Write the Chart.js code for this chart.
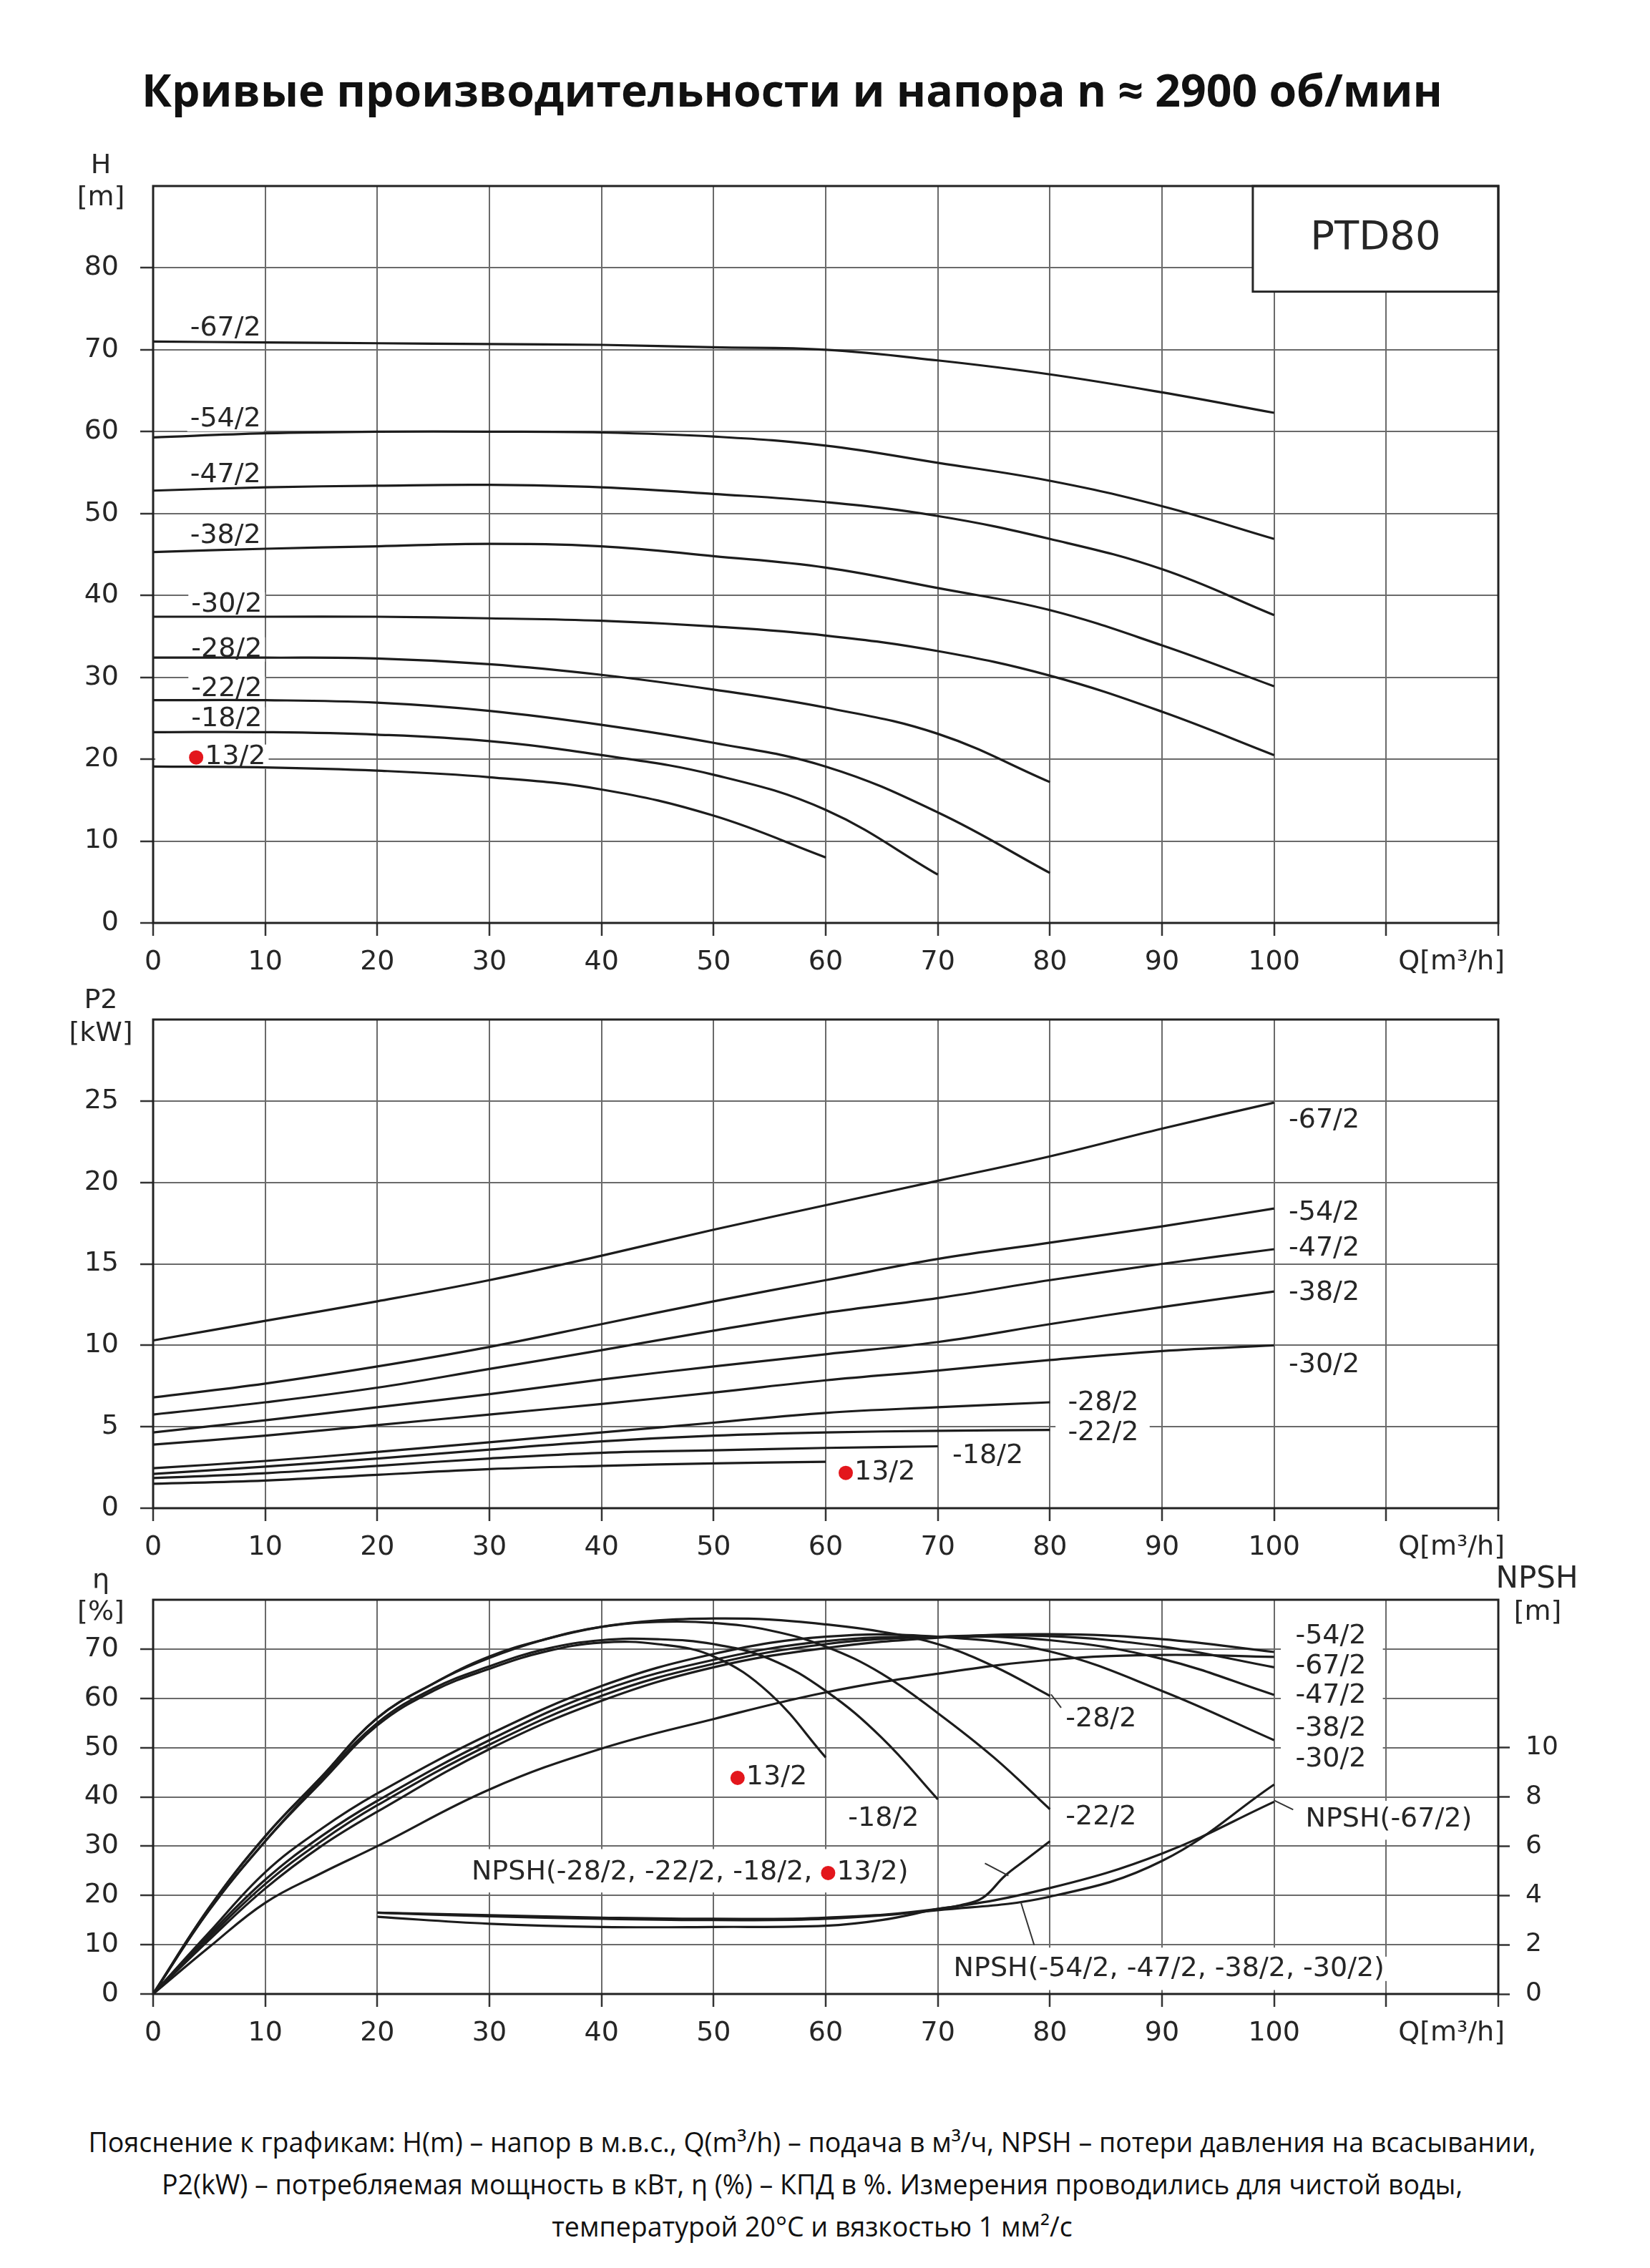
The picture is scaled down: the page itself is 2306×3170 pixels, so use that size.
<!DOCTYPE html>
<html lang="ru">
<head>
<meta charset="utf-8">
<title>PTD80 – кривые производительности</title>
<script src="https://cdn.jsdelivr.net/npm/chart.js@4.4.1/dist/chart.umd.min.js"></script>
<style>
  html, body { margin: 0; padding: 0; background: #fff; }
  body { width: 2306px; height: 3170px; position: relative; overflow: hidden; }
  canvas { position: absolute; left: 0; }
  .title {
    position: absolute; left: 0; top: 87px; width: 2214px;
    text-align: center; font: 700 62.5px/76px 'Open Sans', 'Noto Sans', sans-serif; color: #111;
  }
  .note {
    position: absolute; left: 0; top: 2964px; width: 2270px;
    text-align: center; font: 400 37.5px/59px 'Open Sans', 'Noto Sans', sans-serif; color: #111;
  }
</style>
</head>
<body>
<div class="title">Кривые производительности и напора n ≈ 2900 об/мин</div>
<canvas id="chart-h" width="2306" height="1400" style="top:0"></canvas>
<canvas id="chart-p" width="2306" height="880" style="top:1340px"></canvas>
<canvas id="chart-eta" width="2306" height="780" style="top:2160px"></canvas>
<div class="note">Пояснение к графикам: H(m) – напор в м.в.с., Q(m³/h) – подача в м³/ч, NPSH – потери давления на всасывании,<br>P2(kW) – потребляемая мощность в кВт, η (%) – КПД в %. Измерения проводились для чистой воды,<br>температурой 20°C и вязкостью 1 мм²/с</div>

<script>
/* ── DATA ─────────────────────────────────────────────────── */
// flow rate, m3/h
const Q100 = [0, 10, 20, 30, 40, 50, 60, 70, 80, 90, 100];
const Q80 = [0, 10, 20, 30, 40, 50, 60, 70, 80];
const Q70 = [0, 10, 20, 30, 40, 50, 60, 70];
const Q60 = [0, 10, 20, 30, 40, 50, 60];

// head H, m
const h67 = [71.0, 70.9, 70.8, 70.7, 70.6, 70.3, 70.0, 68.7, 67.0, 64.8, 62.3];
const h54 = [59.3, 59.8, 60.0, 60.0, 59.9, 59.4, 58.3, 56.2, 54.0, 50.9, 46.9];
const h47 = [52.8, 53.2, 53.4, 53.5, 53.2, 52.4, 51.4, 49.7, 46.9, 43.2, 37.6];
const h38 = [45.3, 45.7, 46.0, 46.3, 46.0, 44.8, 43.4, 40.9, 38.2, 33.9, 28.9];
const h30 = [37.4, 37.4, 37.4, 37.2, 36.9, 36.2, 35.1, 33.2, 30.2, 25.8, 20.5];
const h28 = [32.4, 32.4, 32.3, 31.6, 30.3, 28.5, 26.3, 23.1, 17.2];
const h22 = [27.2, 27.2, 26.9, 25.9, 24.2, 22.0, 19.1, 13.5, 6.1];
const h18 = [23.3, 23.3, 23.0, 22.2, 20.5, 18.1, 13.8, 5.9];
const h13 = [19.1, 19.0, 18.6, 17.8, 16.3, 13.1, 8.0];

// power P2, kW
const p67 = [10.3, 11.5, 12.7, 14.0, 15.5, 17.1, 18.6, 20.1, 21.6, 23.3, 24.9];
const p54 = [6.8, 7.65, 8.7, 9.9, 11.3, 12.7, 14.0, 15.3, 16.3, 17.3, 18.4];
const p47 = [5.75, 6.5, 7.4, 8.55, 9.7, 10.9, 12.0, 12.9, 14.0, 15.0, 15.9];
const p38 = [4.65, 5.4, 6.2, 7.0, 7.9, 8.7, 9.45, 10.2, 11.3, 12.35, 13.3];
const p30 = [3.9, 4.45, 5.1, 5.75, 6.4, 7.1, 7.85, 8.45, 9.1, 9.65, 10.0];
const p28 = [2.45, 2.9, 3.45, 4.05, 4.65, 5.25, 5.85, 6.2, 6.5];
const p22 = [2.1, 2.55, 3.05, 3.6, 4.1, 4.45, 4.65, 4.75, 4.8];
const p18 = [1.85, 2.15, 2.6, 3.05, 3.4, 3.55, 3.7, 3.8];
const p13 = [1.5, 1.7, 2.05, 2.4, 2.6, 2.75, 2.85];

// efficiency, %
const Q_EFF_A = [0, 5, 10, 15, 20, 25, 30, 35, 40, 45, 50, 55, 60, 65, 70, 75, 80];
const e28 = [0, 17.5, 32, 44, 56, 63, 68.5, 72, 74.5, 75.8, 76.2, 76, 75, 73.5, 71, 66.5, 60.5];
const e22 = [0, 17.5, 32, 44, 56, 63, 68.2, 72, 74.5, 75.5, 75.3, 73.8, 70.5, 65, 57, 48, 37.5];
const e18 = [0, 17, 31, 43.5, 55, 62, 66.5, 70, 71.8, 72, 71, 68, 61.5, 52, 39.5];
const e13 = [0, 17, 31, 43, 54.5, 61.5, 66, 69.5, 71.3, 71, 68.5, 61, 48];
const Q_EFF_B = [0, 5, 10, 15, 20, 30, 40, 50, 60, 70, 80, 90, 100];
const e30 = [0, 12.5, 24.7, 33.5, 40.7, 52.7, 62.5, 69, 72.5, 72.5, 69.5, 61.5, 51.5];
const e38 = [0, 12, 23.2, 32, 39.2, 51.5, 61.5, 67.8, 71.6, 72.5, 71.8, 68, 60.7];
const e47 = [0, 11.5, 22.3, 31, 38.3, 50.6, 60.5, 67, 71, 72.5, 72.6, 70.5, 66.3];
const e54 = [0, 11, 21.4, 30, 37, 49.7, 59.5, 66.3, 70.2, 72.3, 73, 72, 69.4];
const e67 = [0, 9.5, 18.5, 24.5, 30, 41.5, 49.8, 55.8, 61.2, 65, 67.8, 68.8, 68.4];

// NPSH, m
const Q_NPSH_A = [20, 30, 40, 50, 60, 65, 70, 72, 74, 76, 78, 80];
const npshSmall = [3.13, 2.85, 2.72, 2.72, 2.77, 3.0, 3.45, 3.6, 3.9, 4.8, 5.5, 6.2];
const Q_NPSH_B = [20, 30, 40, 50, 60, 70, 80, 90, 100];
const npshMid = [3.3, 3.15, 3.05, 3.0, 3.05, 3.4, 3.95, 5.4, 8.5];
const npsh67 = [3.3, 3.2, 3.1, 3.05, 3.1, 3.45, 4.3, 5.7, 7.8];

// axis ticks
const Q_TICKS = [0, 10, 20, 30, 40, 50, 60, 70, 80, 90, 100, 110, 120];
const Q_TICK_LABELS = ['0', '10', '20', '30', '40', '50', '60', '70', '80', '90', '100', '', ''];
const H_TICKS = [0, 10, 20, 30, 40, 50, 60, 70, 80];
const P_TICKS = [0, 5, 10, 15, 20, 25];
const ETA_TICKS = [0, 10, 20, 30, 40, 50, 60, 70];
const NPSH_TICKS = [0, 2, 4, 6, 8, 10];

/* ── STYLE ────────────────────────────────────────────────── */
const FONT = "'DejaVu Sans', 'Liberation Sans', sans-serif";
const INK = '#262626';
const GRID = '#6a6a6a';
const RED = '#e3161c';
const LABEL_FONT = '38px ' + FONT;

Chart.defaults.font.family = FONT;
Chart.defaults.font.size = 38;
Chart.defaults.color = INK;

const line = (qs, vs, axis) => ({
    data: qs.map((q, i) => ({ x: q, y: vs[i] })),
    yAxisID: axis || 'y',
    borderColor: '#1c1c1c',
    borderWidth: 3.2,
    pointRadius: 0,
    fill: false,
    tension: 0.4,
});

const gridStyle = { color: GRID, lineWidth: 2, tickLength: 18, tickColor: '#333', tickWidth: 2.5 };

function xScale(height) {
    return {
        type: 'linear', min: 0, max: 120,
        afterBuildTicks: s => { s.ticks = Q_TICKS.map(v => ({ value: v })); },
        ticks: {
            autoSkip: false, maxRotation: 0, padding: 14,
            callback: v => Q_TICK_LABELS[Q_TICKS.indexOf(v)] ?? '',
        },
        grid: gridStyle,
        border: { display: false },
        afterFit: s => { s.height = height; },
    };
}

function yScale(max, tickList, pos) {
    const right = pos === 'right';
    return {
        type: 'linear', min: 0, max: max, position: pos || 'left',
        afterBuildTicks: s => { s.ticks = tickList.map(v => ({ value: v })); },
        ticks: { autoSkip: false, padding: right ? 22 : 30, font: { size: right ? 36 : 38 } },
        grid: right ? { drawOnChartArea: false, tickLength: 16, tickColor: '#333', tickWidth: 2.5 } : gridStyle,
        border: { display: false },
        afterFit: s => { s.width = right ? 212 : 214; },
    };
}

/* ── ANNOTATION PLUGIN (labels, white boxes, leaders, frame) ─ */
function labelWidth(ctx, t) {
    const parts = t.split('●');
    return parts.reduce((w, p) => w + ctx.measureText(p).width, 0) + (parts.length - 1) * 22;
}

function drawLabel(ctx, t, x, y) {
    const parts = t.split('●');
    let cx = x;
    parts.forEach((p, i) => {
        ctx.fillStyle = INK;
        ctx.fillText(p, cx, y);
        cx += ctx.measureText(p).width;
        if (i < parts.length - 1) {
            ctx.fillStyle = RED;
            ctx.beginPath();
            ctx.arc(cx + 10, y + 1, 10, 0, Math.PI * 2);
            ctx.fill();
            cx += 22;
        }
    });
}

function notes(cfg) {
    const px = (c, axis, v) => c.scales[axis].getPixelForValue(v);
    return {
        id: 'notes',
        beforeDatasetsDraw(c) {
            const ctx = c.ctx;
            ctx.save();
            ctx.fillStyle = '#fff';
            (cfg.boxes || []).forEach(b => {
                const ax = b.axis || 'y';
                const x0 = px(c, 'x', b.x0), x1 = px(c, 'x', b.x1);
                const y0 = px(c, ax, b.y0), y1 = px(c, ax, b.y1);
                ctx.fillRect(x0, y1, x1 - x0, y0 - y1);
            });
            ctx.font = LABEL_FONT;
            (cfg.labels || []).forEach(l => {
                const x = px(c, 'x', l.x), y = px(c, l.axis || 'y', l.y);
                ctx.fillRect(x - 4, y - 17, labelWidth(ctx, l.t) + 8, 34);
            });
            ctx.restore();
        },
        afterDatasetsDraw(c) {
            const ctx = c.ctx;
            const a = c.chartArea;
            ctx.save();
            // framed boxes with text
            (cfg.boxes || []).filter(b => b.stroke).forEach(b => {
                const ax = b.axis || 'y';
                const x0 = px(c, 'x', b.x0), x1 = px(c, 'x', b.x1);
                const y0 = px(c, ax, b.y0), y1 = px(c, ax, b.y1);
                ctx.strokeStyle = INK;
                ctx.lineWidth = 3;
                ctx.strokeRect(x0, y1, x1 - x0, y0 - y1);
                if (b.text) {
                    ctx.font = b.font;
                    ctx.fillStyle = INK;
                    ctx.textAlign = 'center';
                    ctx.textBaseline = 'middle';
                    ctx.fillText(b.text, (x0 + x1) / 2, (y0 + y1) / 2);
                }
            });
            // leaders
            ctx.strokeStyle = '#333';
            ctx.lineWidth = 2;
            (cfg.leaders || []).forEach(l => {
                const ax = l.axis || 'y';
                ctx.beginPath();
                ctx.moveTo(px(c, 'x', l.x0), px(c, ax, l.y0));
                ctx.lineTo(px(c, 'x', l.x1), px(c, ax, l.y1));
                ctx.stroke();
            });
            // labels
            ctx.font = LABEL_FONT;
            ctx.textAlign = 'left';
            ctx.textBaseline = 'middle';
            (cfg.labels || []).forEach(l => {
                drawLabel(ctx, l.t, px(c, 'x', l.x), px(c, l.axis || 'y', l.y));
            });
            // frame
            ctx.strokeStyle = '#222';
            ctx.lineWidth = 3;
            ctx.strokeRect(a.left, a.top, a.right - a.left, a.bottom - a.top);
            ctx.restore();
        },
        afterDraw(c) {
            const ctx = c.ctx;
            const a = c.chartArea;
            ctx.save();
            ctx.fillStyle = INK;
            ctx.textBaseline = 'middle';
            (cfg.titles || []).forEach(t => {
                ctx.font = (t.size || 38) + 'px ' + FONT;
                ctx.textAlign = t.align || 'center';
                const x = (t.side === 'right' ? a.right : a.left) + t.dx;
                const y = (t.from === 'bottom' ? a.bottom : a.top) + t.dy;
                ctx.fillText(t.t, x, y);
            });
            ctx.restore();
        },
    };
}

const qTitle = { t: 'Q[m³/h]', side: 'right', dx: 9, from: 'bottom', dy: 55, align: 'right' };

function baseOptions(padTop, padRight) {
    return {
        responsive: false,
        animation: false,
        events: [],
        layout: { padding: { top: padTop, right: padRight, left: 0, bottom: 0 } },
        plugins: { legend: { display: false }, tooltip: { enabled: false } },
    };
}

/* ── H(Q) ─────────────────────────────────────────────────── */
new Chart(document.getElementById('chart-h'), {
    type: 'line',
    data: {
        datasets: [
            line(Q100, h67), line(Q100, h54), line(Q100, h47), line(Q100, h38), line(Q100, h30),
            line(Q80, h28), line(Q80, h22), line(Q70, h18), line(Q60, h13),
        ],
    },
    options: Object.assign(baseOptions(260, 212), {
        scales: { x: xScale(110), y: yScale(90, H_TICKS) },
    }),
    plugins: [notes({
        boxes: [
            { x0: 98.1, x1: 120, y0: 77.1, y1: 90, stroke: true, text: 'PTD80', font: '56px ' + FONT },
            { x0: 0.2, x1: 9.8, y0: 19.5, y1: 21.1 },
        ],
        labels: [
            { t: '-67/2', x: 3.3, y: 72.6 }, { t: '-54/2', x: 3.3, y: 61.5 },
            { t: '-47/2', x: 3.3, y: 54.7 }, { t: '-38/2', x: 3.3, y: 47.3 },
            { t: '-30/2', x: 3.4, y: 38.9 }, { t: '-28/2', x: 3.4, y: 33.4 },
            { t: '-22/2', x: 3.4, y: 28.6 }, { t: '-18/2', x: 3.4, y: 24.85 },
            { t: '●13/2', x: 3.2, y: 20.3 },
        ],
        titles: [
            { t: 'H', dx: -73, dy: -28 }, { t: '[m]', dx: -73, dy: 17 }, qTitle,
        ],
    })],
});

/* ── P2(Q) ────────────────────────────────────────────────── */
new Chart(document.getElementById('chart-p'), {
    type: 'line',
    data: {
        datasets: [
            line(Q100, p67), line(Q100, p54), line(Q100, p47), line(Q100, p38), line(Q100, p30),
            line(Q80, p28), line(Q80, p22), line(Q70, p18), line(Q60, p13),
        ],
    },
    options: Object.assign(baseOptions(85, 212), {
        scales: { x: xScale(112), y: yScale(30, P_TICKS) },
    }),
    plugins: [notes({
        boxes: [{ x0: 80.5, x1: 88.9, y0: 4.1, y1: 5.4 }],
        labels: [
            { t: '-67/2', x: 101.3, y: 23.8 }, { t: '-54/2', x: 101.3, y: 18.15 },
            { t: '-47/2', x: 101.3, y: 15.95 }, { t: '-38/2', x: 101.3, y: 13.2 },
            { t: '-30/2', x: 101.3, y: 8.78 }, { t: '-28/2', x: 81.6, y: 6.43 },
            { t: '-22/2', x: 81.6, y: 4.59 }, { t: '-18/2', x: 71.3, y: 3.18 },
            { t: '●13/2', x: 61.15, y: 2.21 },
        ],
        titles: [
            { t: 'P2', dx: -73, dy: -26 }, { t: '[kW]', dx: -73, dy: 20 }, qTitle,
        ],
    })],
});

/* ── η(Q) and NPSH(Q) ─────────────────────────────────────── */
new Chart(document.getElementById('chart-eta'), {
    type: 'line',
    data: {
        datasets: [
            line(Q_EFF_A, e28), line(Q_EFF_A, e22), line(Q_EFF_A.slice(0, e18.length), e18),
            line(Q_EFF_A.slice(0, e13.length), e13),
            line(Q_EFF_B, e30), line(Q_EFF_B, e38), line(Q_EFF_B, e47), line(Q_EFF_B, e54), line(Q_EFF_B, e67),
            line(Q_NPSH_A, npshSmall, 'yR'), line(Q_NPSH_B, npshMid, 'yR'), line(Q_NPSH_B, npsh67, 'yR'),
        ],
    },
    options: Object.assign(baseOptions(76, 0), {
        scales: {
            x: xScale(153),
            y: yScale(80, ETA_TICKS),
            yR: yScale(16, NPSH_TICKS, 'right'),
        },
    }),
    plugins: [notes({
        boxes: [
            { x0: 100.6, x1: 109.7, y0: 44, y1: 79.7 },
            { x0: 102.5, x1: 117.8, y0: 31.3, y1: 39.2 },
            { x0: 71, x1: 108.8, y0: 0.8, y1: 9.4 },
            { x0: 22, x1: 68.5, y0: 20.6, y1: 29.4 },
        ],
        leaders: [
            { x0: 74.2, y0: 26.5, x1: 76.3, y1: 24.0 },
            { x0: 77.4, y0: 18.65, x1: 78.6, y1: 9.9 },
            { x0: 100, y0: 39.3, x1: 101.7, y1: 37.4 },
            { x0: 80.1, y0: 60.8, x1: 81, y1: 58.1 },
        ],
        labels: [
            { t: '-28/2', x: 81.4, y: 55.7 }, { t: '-22/2', x: 81.4, y: 35.9 },
            { t: '-18/2', x: 62, y: 35.6 }, { t: '●13/2', x: 51.5, y: 44 },
            { t: '-54/2', x: 101.9, y: 72.6 }, { t: '-67/2', x: 101.9, y: 66.5 },
            { t: '-47/2', x: 101.9, y: 60.5 }, { t: '-38/2', x: 101.9, y: 53.8 },
            { t: '-30/2', x: 101.9, y: 47.6 },
            { t: 'NPSH(-67/2)', x: 102.8, y: 35.4 },
            { t: 'NPSH(-54/2, -47/2, -38/2, -30/2)', x: 71.4, y: 5.1 },
            { t: 'NPSH(-28/2, -22/2, -18/2, ●13/2)', x: 28.4, y: 24.7 },
        ],
        titles: [
            { t: 'η', dx: -73, dy: -26 }, { t: '[%]', dx: -73, dy: 18 },
            { t: 'NPSH', side: 'right', dx: 54, dy: -28, size: 42 },
            { t: '[m]', side: 'right', dx: 55, dy: 18 },
            qTitle,
        ],
    })],
});
</script>
</body>
</html>
